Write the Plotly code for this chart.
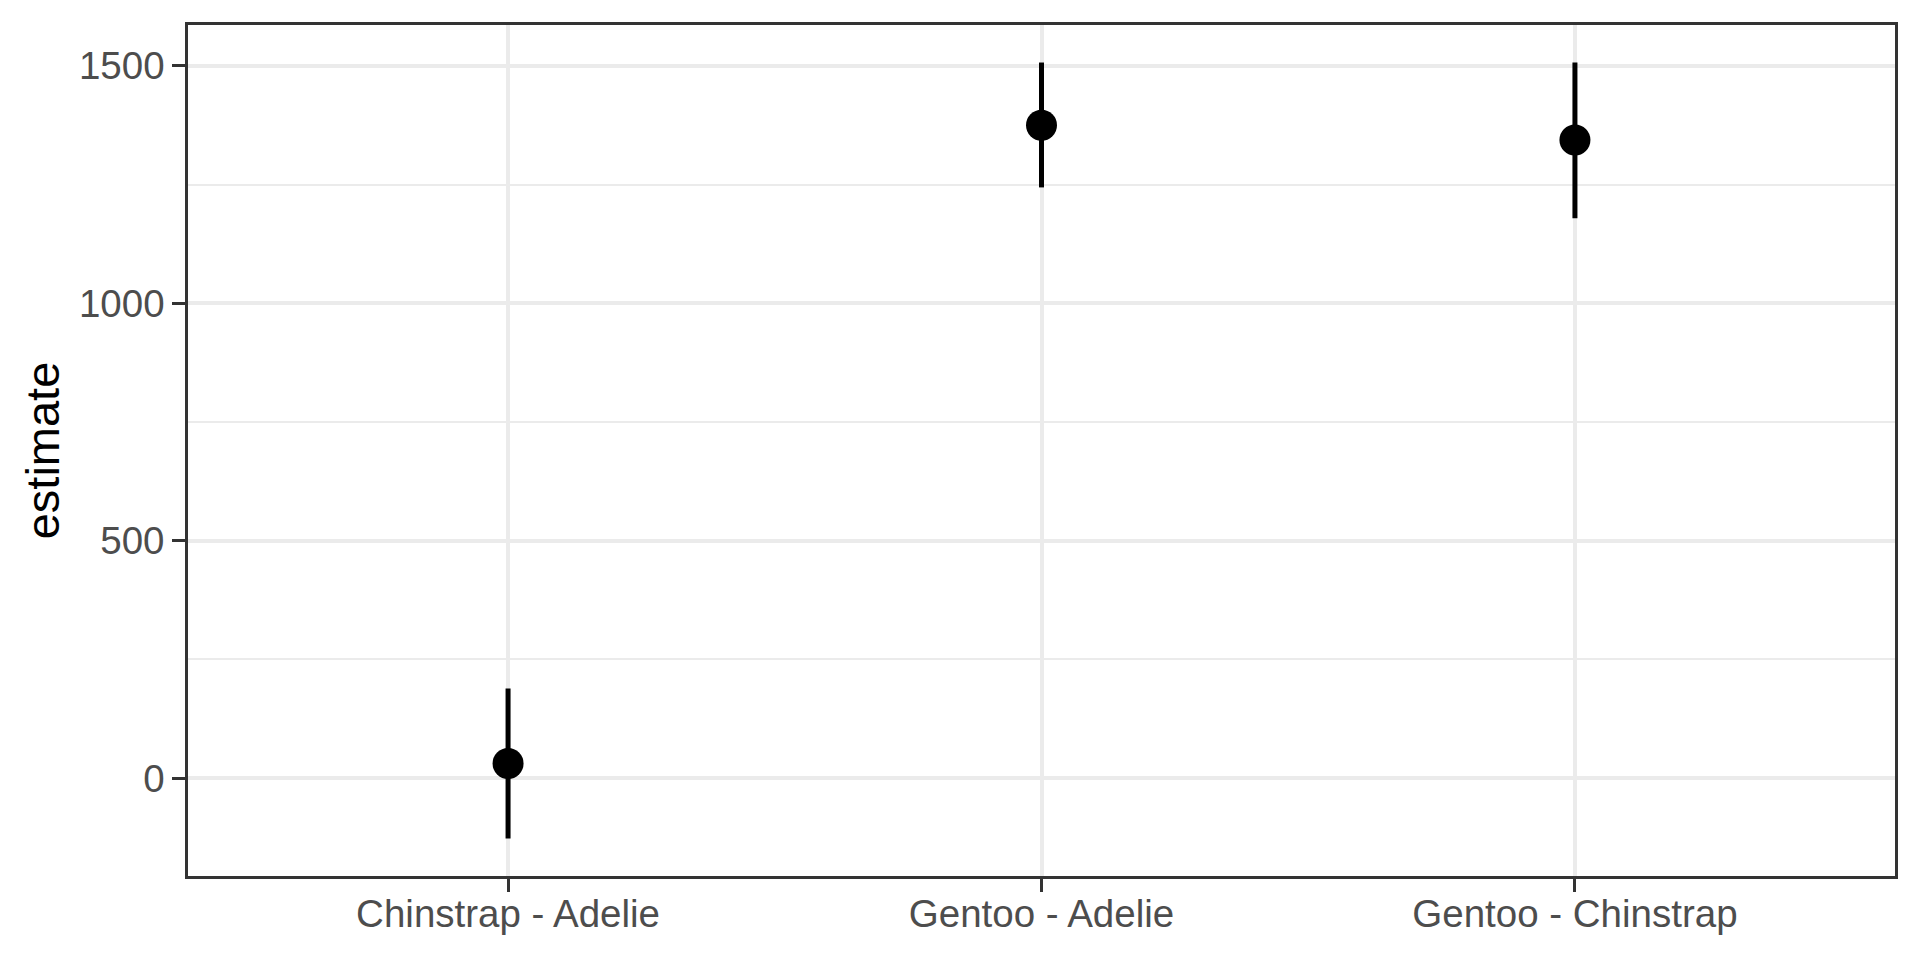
import plotly.graph_objects as go

contrasts = ["Chinstrap - Adelie", "Gentoo - Adelie", "Gentoo - Chinstrap"]
estimate = [31, 1375, 1344]
conf_low = [-127, 1244, 1179]
conf_high = [189, 1507, 1507]

y_tickvals = [0, 500, 1000, 1500]

err_plus = [h - e for h, e in zip(conf_high, estimate)]
err_minus = [e - l for e, l in zip(estimate, conf_low)]

FONT = "Liberation Sans, Arial, Helvetica, sans-serif"

fig = go.Figure()
fig.add_trace(go.Scatter(
    x=contrasts, y=estimate, mode="markers",
    marker=dict(color="black", size=31, line=dict(width=0)),
    error_y=dict(type="data", symmetric=False, array=err_plus, arrayminus=err_minus,
                 color="black", thickness=5, width=0),
    showlegend=False,
))

fig.update_layout(
    width=1912, height=952,
    margin=dict(l=180, r=25, t=17, b=84),
    paper_bgcolor="white", plot_bgcolor="white",
    font=dict(family=FONT, color="#4D4D4D"),
    xaxis=dict(
        type="category", range=[-0.6, 2.6],
        showgrid=True, gridcolor="#EBEBEB", gridwidth=4,
        showline=True, linecolor="#333333", linewidth=2.5, mirror=True,
        ticks="outside", ticklen=13, tickwidth=2.5, tickcolor="#333333",
        tickfont=dict(size=38.5, color="#4D4D4D", family=FONT),
        ticklabelstandoff=-11,
        zeroline=False,
    ),
    yaxis=dict(
        range=[-206, 1586],
        tickmode="array", tickvals=y_tickvals,
        showgrid=True, gridcolor="#EBEBEB", gridwidth=4,
        minor=dict(dtick=250, tick0=0, showgrid=True, gridcolor="#EBEBEB", gridwidth=2, ticks=""),
        showline=True, linecolor="#333333", linewidth=2.5, mirror=True,
        ticks="outside", ticklen=13, tickwidth=2.5, tickcolor="#333333",
        tickfont=dict(size=38.5, color="#4D4D4D", family=FONT),
        zeroline=False,
        title=dict(text="estimate", font=dict(size=47, color="black", family=FONT), standoff=5),
    ),
)

fig.write_html("out.html")
